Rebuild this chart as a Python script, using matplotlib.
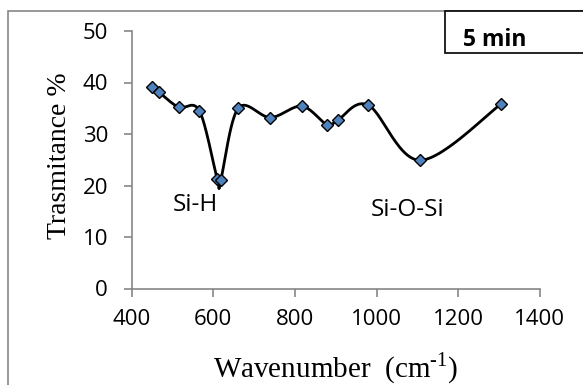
import numpy as np
import matplotlib
matplotlib.use("Agg")
import matplotlib.pyplot as plt
from matplotlib.patches import Rectangle

wavenumber = [449, 467, 515, 566, 610, 618, 661, 740, 817, 879, 905, 980, 1107, 1305]
transmittance = [39.2, 38.1, 35.2, 34.5, 21.2, 21.0, 35.0, 33.2, 35.4, 31.8, 32.7, 35.6, 24.9, 35.8]
x_ticks = [400, 600, 800, 1000, 1200, 1400]
y_ticks = [0, 10, 20, 30, 40, 50]
title_text = "5 min"
annotations = [("Si-H", 556, 16.2), ("Si-O-Si", 1077, 15.2)]


def excel_smooth(x, y, n=30):
    x = np.asarray(x, float)
    y = np.asarray(y, float)
    px, py = [], []
    N = len(x)
    for i in range(N - 1):
        x0, y0 = (x[i - 1], y[i - 1]) if i > 0 else (x[i], y[i])
        x1, y1 = x[i], y[i]
        x2, y2 = x[i + 1], y[i + 1]
        x3, y3 = (x[i + 2], y[i + 2]) if i + 2 < N else (x2, y2)
        c1x, c1y = x1 + (x2 - x0) / 6, y1 + (y2 - y0) / 6
        c2x, c2y = x2 - (x3 - x1) / 6, y2 - (y3 - y1) / 6
        t = np.linspace(0, 1, n)
        bx = (1 - t) ** 3 * x1 + 3 * (1 - t) ** 2 * t * c1x + 3 * (1 - t) * t ** 2 * c2x + t ** 3 * x2
        by = (1 - t) ** 3 * y1 + 3 * (1 - t) ** 2 * t * c1y + 3 * (1 - t) * t ** 2 * c2y + t ** 3 * y2
        px.extend(bx)
        py.extend(by)
    return np.array(px), np.array(py)


W, H = 583, 385
fig = plt.figure(figsize=(W / 100, H / 100), dpi=100)
left, right, bottom, top = 131.7 / W, 539.7 / W, 1 - 288.5 / H, 1 - 31 / H
ax = fig.add_axes([left, bottom, right - left, top - bottom])

sx, sy = excel_smooth(wavenumber, transmittance)
ax.plot(sx, sy, color="black", lw=2, zorder=2)
ax.plot(wavenumber, transmittance, linestyle="none", marker="D", markersize=6,
        markerfacecolor="#4F81BD", markeredgecolor="black", markeredgewidth=1.0, zorder=3)

ax.set_xlim(400, 1400)
ax.set_ylim(0, 50)
ax.set_xticks(x_ticks)
ax.set_yticks(y_ticks)
tick_font = "Open Sans"
for lab in ax.get_xticklabels() + ax.get_yticklabels():
    lab.set_fontfamily(tick_font)
    lab.set_fontsize(16)
ax.tick_params(axis="both", direction="out", length=6, width=1.2, color="#868686")
ax.tick_params(axis="x", pad=9)
ax.tick_params(axis="y", pad=11)
for s in ["top", "right"]:
    ax.spines[s].set_visible(False)
for s in ["left", "bottom"]:
    ax.spines[s].set_color("#868686")
    ax.spines[s].set_linewidth(1.2)

ax.set_xlabel("Wavenumber  (cm$^{\\mathregular{\u2010 1}}$)", fontfamily="Liberation Serif", fontsize=21)
ax.set_ylabel("Trasmitance %", fontfamily="Liberation Serif", fontsize=20)
axh_px = (top - bottom) * H
axw_px = (right - left) * W
ax.xaxis.set_label_coords(0.5, (288.5 - 368) / axh_px)
ax.xaxis.label.set_va("center")
ax.yaxis.set_label_coords((59.5 - 131.7) / axw_px, (288.5 - 156) / axh_px)
ax.yaxis.label.set_va("center")

for txt, xx, yy in annotations:
    ax.text(xx, yy, txt, ha="center", va="center", fontfamily=tick_font, fontsize=17.5)

# outer chart border
fig.patches.append(Rectangle((8.3 / W, -0.1), 1.2, 1 - 11 / H + 0.1, transform=fig.transFigure,
                             fill=False, edgecolor="#868686", lw=1.2))
# title box
fig.patches.append(Rectangle((445 / W, 1 - 53 / H), 0.3, 42 / H, transform=fig.transFigure,
                             fill=True, facecolor="white", edgecolor="black", lw=1.2, zorder=5))
fig.text(463 / W, 1 - 40 / H, title_text, ha="left", va="center", fontfamily=tick_font,
         fontweight="bold", fontsize=16.5, zorder=6)

fig.savefig("out.png", dpi=100)
